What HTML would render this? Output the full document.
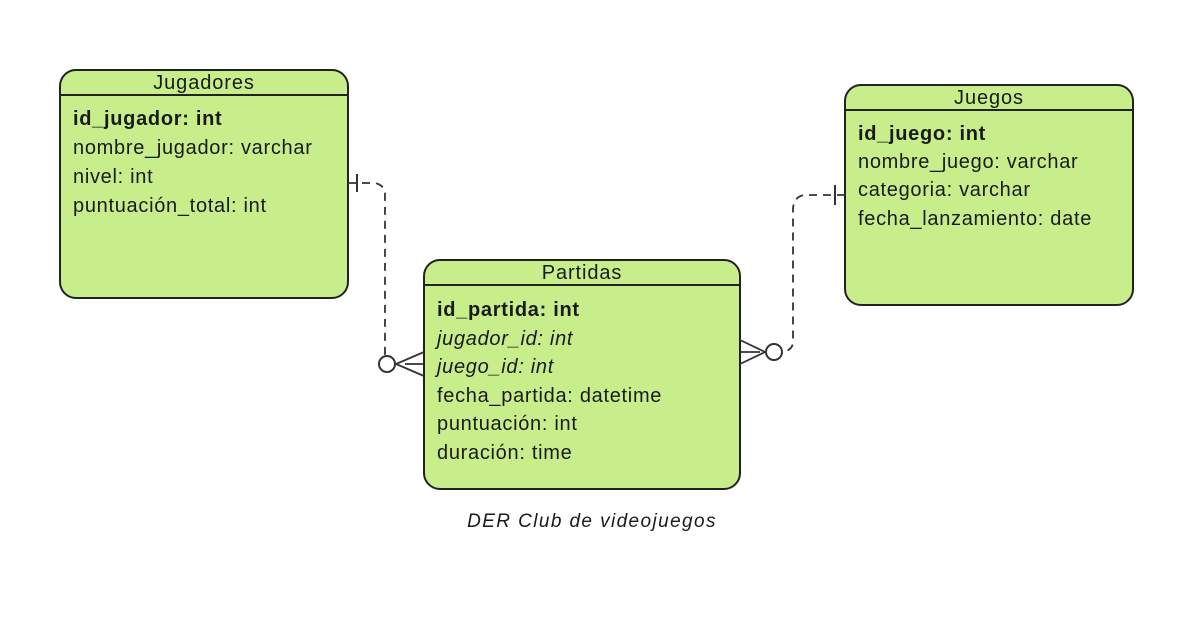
<!DOCTYPE html>
<html><head><meta charset="utf-8"><style>
html,body{margin:0;padding:0;background:#fff;}
svg{display:block;}
text{font-family:"Liberation Sans",sans-serif;font-size:20px;fill:#1a1a1a;letter-spacing:0.7px;}
.t{font-size:20px;letter-spacing:0.9px;}
.b{font-weight:bold;}
.i{font-style:italic;}
</style></head><body>
<svg width="1182" height="621" viewBox="0 0 1182 621" xmlns="http://www.w3.org/2000/svg">
<!-- Jugadores -->
<rect x="60" y="70" width="288" height="228" rx="16" fill="#c8ee8c" stroke="#222" stroke-width="2"/>
<line x1="60" y1="95" x2="348" y2="95" stroke="#222" stroke-width="2"/>
<text x="204" y="89" text-anchor="middle" class="t">Jugadores</text>
<text x="73" y="125" class="b">id_jugador: int</text>
<text x="73" y="154">nombre_jugador: varchar</text>
<text x="73" y="183">nivel: int</text>
<text x="73" y="212">puntuación_total: int</text>
<!-- Juegos -->
<rect x="845" y="85" width="288" height="220" rx="16" fill="#c8ee8c" stroke="#222" stroke-width="2"/>
<line x1="845" y1="110" x2="1133" y2="110" stroke="#222" stroke-width="2"/>
<text x="989" y="104" text-anchor="middle" class="t">Juegos</text>
<text x="858" y="140" class="b">id_juego: int</text>
<text x="858" y="168">nombre_juego: varchar</text>
<text x="858" y="196">categoria: varchar</text>
<text x="858" y="225">fecha_lanzamiento: date</text>
<!-- Partidas -->
<rect x="424" y="260" width="316" height="229" rx="16" fill="#c8ee8c" stroke="#222" stroke-width="2"/>
<line x1="424" y1="285" x2="740" y2="285" stroke="#222" stroke-width="2"/>
<text x="582" y="279" text-anchor="middle" class="t">Partidas</text>
<text x="437" y="316" class="b">id_partida: int</text>
<text x="437" y="345" class="i">jugador_id: int</text>
<text x="437" y="373" class="i">juego_id: int</text>
<text x="437" y="402">fecha_partida: datetime</text>
<text x="437" y="430">puntuación: int</text>
<text x="437" y="459">duración: time</text>
<!-- left connector -->
<path d="M348,183 L375,183 Q385,185 385,195 L385,356" fill="none" stroke="#333" stroke-width="1.8" stroke-dasharray="8,6"/>
<line x1="357" y1="174" x2="357" y2="192" stroke="#333" stroke-width="2"/>
<circle cx="387" cy="364" r="8" fill="#fff" stroke="#333" stroke-width="2"/>
<path d="M424,352 L396,364 L424,376 M405,364 L424,364" fill="none" stroke="#333" stroke-width="1.8"/>
<!-- right connector -->
<path d="M845,195 L804,195 Q793,197 793,210 L793,343 Q792,350 783,352" fill="none" stroke="#333" stroke-width="1.8" stroke-dasharray="8,6"/>
<line x1="835" y1="185" x2="835" y2="205" stroke="#333" stroke-width="2"/>
<circle cx="774" cy="352" r="8" fill="#fff" stroke="#333" stroke-width="2"/>
<path d="M740,340 L765,352 L740,364 M740,352 L760,352" fill="none" stroke="#333" stroke-width="1.8"/>
<text x="592" y="527" text-anchor="middle" class="i" style="font-size:19px;letter-spacing:1.4px">DER Club de videojuegos</text>
</svg>
</body></html>
